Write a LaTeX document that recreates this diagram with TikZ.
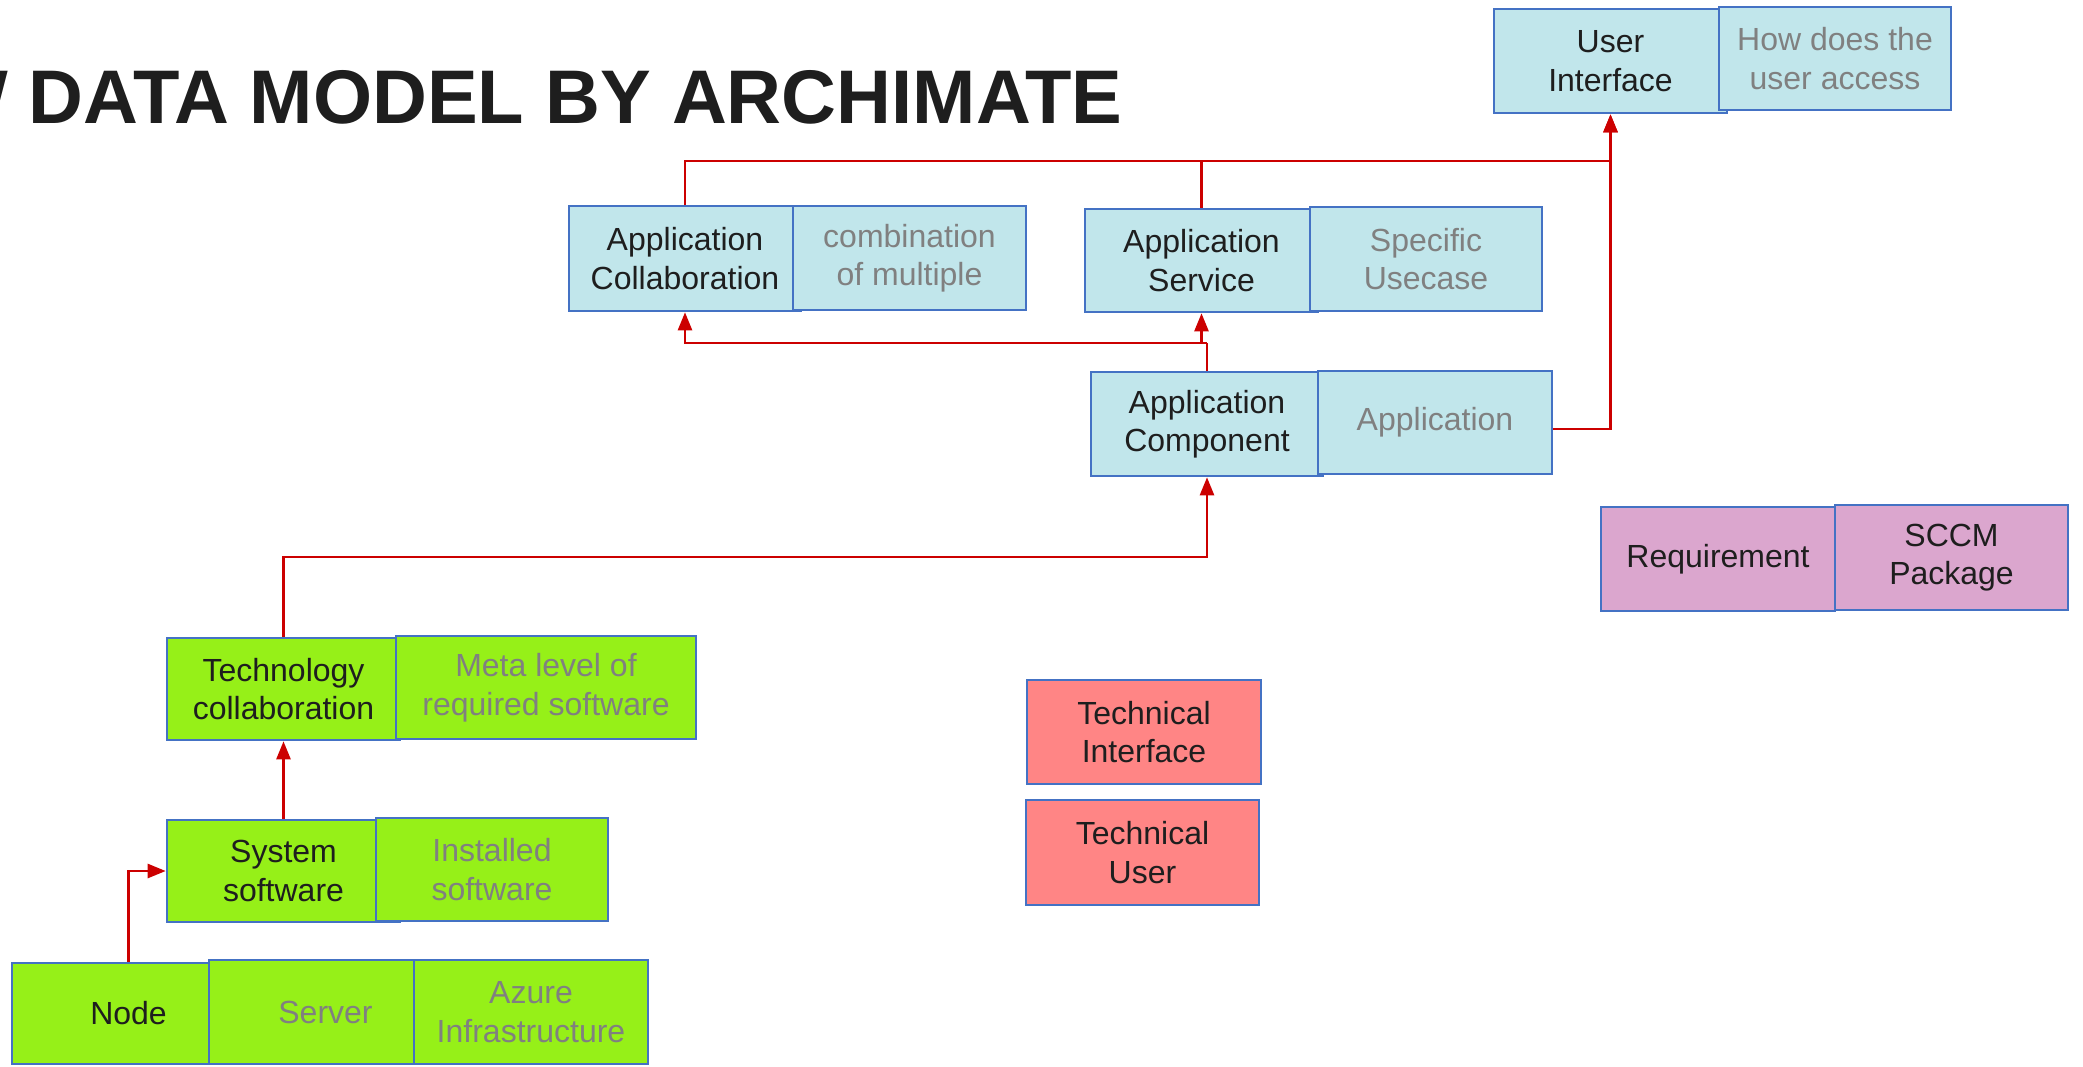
\documentclass[tikz,border=0pt]{standalone}
\usepackage{fontspec}
\setmainfont{Liberation Sans}
\usetikzlibrary{arrows.meta}
\definecolor{bluefill}{RGB}{193,230,235}
\definecolor{bordblue}{RGB}{68,114,196}
\definecolor{greenfill}{RGB}{150,240,24}
\definecolor{pinkfill}{RGB}{255,133,133}
\definecolor{purplefill}{RGB}{219,166,206}
\definecolor{relred}{RGB}{204,0,0}
\definecolor{txtgray}{RGB}{128,128,128}
\definecolor{txtdark}{RGB}{30,30,30}
\tikzset{
  abox/.style={draw=bordblue, line width=2.6pt, inner sep=0pt, align=center,
    font=\fontsize{32}{38.5}\selectfont, text=txtdark},
  bluebox/.style={abox, fill=bluefill},
  greenbox/.style={abox, fill=greenfill},
  pinkbox/.style={abox, fill=pinkfill},
  purplebox/.style={abox, fill=purplefill},
  note/.style={text=txtgray},
  rel/.style={draw=relred, line width=2.5pt},
  arr/.style={rel, -{Triangle[length=18pt,width=14pt]}},
  sz/.style 2 args={minimum width=#1pt, minimum height=#2pt}
}
\begin{document}
\begin{tikzpicture}[x=1pt,y=-1pt]
\useasboundingbox (0,0) rectangle (2083,1066);
\clip (0,0) rectangle (2083,1066);
\fill[white] (0,0) rectangle (2083,1066);

% title
\node[anchor=base west, inner sep=0pt, text=txtdark, font=\fontsize{76}{80}\selectfont\bfseries] (title) at (-64,123) {W DATA MODEL BY ARCHIMATE};

% application layer
\node[bluebox, sz={233}{104}] (ui) at (1610.5,61) {User\\Interface};
\node[bluebox, note, sz={232}{103}] (uinote) at (1835,58.5) {How does the\\user access};
\node[bluebox, sz={232}{105}] (collab) at (685,258.5) {Application\\Collaboration};
\node[bluebox, note, sz={233}{104}] (collabnote) at (909.5,258) {combination\\of multiple};
\node[bluebox, sz={233}{103}] (service) at (1201.5,260.5) {Application\\Service};
\node[bluebox, note, sz={232}{104}] (servicenote) at (1426,259) {Specific\\Usecase};
\node[bluebox, sz={232}{104}] (comp) at (1207,424) {Application\\Component};
\node[bluebox, note, sz={234}{103}] (compnote) at (1435,422.5) {Application};

% requirement
\node[purplebox, sz={234}{104}] (req) at (1718,559) {Requirement};
\node[purplebox, sz={233}{105}] (sccm) at (1951.5,557.5) {SCCM\\Package};

% technical
\node[pinkbox, sz={234}{104}] (techif) at (1144,732) {Technical\\Interface};
\node[pinkbox, sz={233}{105}] (techuser) at (1142.5,852.5) {Technical\\User};

% technology layer
\node[greenbox, sz={233}{102}] (techcol) at (283.5,689) {Technology\\collaboration};
\node[greenbox, note, sz={300}{103}] (techcolnote) at (546,687.5) {Meta level of\\required software};
\node[greenbox, sz={233}{102}] (sys) at (283.5,871) {System\\software};
\node[greenbox, note, sz={232}{103}] (sysnote) at (492,869.5) {Installed\\software};
\node[greenbox, sz={197}{101}] (nodebox) at (110.5,1013.5) {\hspace*{36pt}Node};
\node[greenbox, note, sz={205}{104}] (server) at (311.5,1012) {\hspace*{28pt}Server};
\node[greenbox, note, sz={234}{104}] (azure) at (531,1012) {Azure\\Infrastructure};

% connectors
\coordinate (ytop) at (0,161);
\coordinate (ymid) at (0,343);
\coordinate (yapp) at (0,429);
\coordinate (ytech) at (0,557);

\draw[rel] (comp.north) -- (comp.north |- ymid);
\draw[arr] (comp.north |- ymid) -| (collab.south);
\draw[arr] (service.south |- ymid) -- (service.south);

\draw[arr] (collab.north) |- (ui.south |- ytop) -- (ui.south);
\draw[rel] (service.north) -- (service.north |- ytop);
\draw[arr] (compnote.east |- yapp) -| (ui.south);

\draw[arr] (techcol.north) |- (comp.south |- ytech) -- (comp.south);
\draw[arr] (sys.north) -- (techcol.south);
\draw[arr] ([xshift=18pt]nodebox.north) |- (sys.west);
\end{tikzpicture}
\end{document}
